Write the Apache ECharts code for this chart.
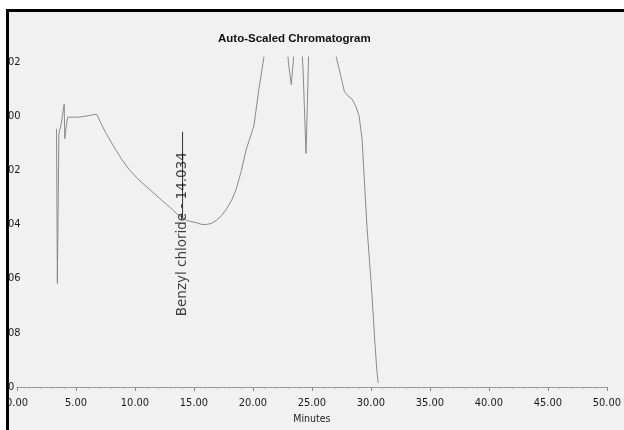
<!DOCTYPE html>
<html>
<head>
<meta charset="utf-8">
<script src="https://cdn.jsdelivr.net/npm/echarts@6/dist/echarts.min.js"></script>
<style>
  html, body { margin: 0; padding: 0; background: #ffffff; }
  #wrap { position: relative; width: 624px; height: 430px; overflow: hidden; }
  #bg { position: absolute; left: 6px; top: 9px; right: 0; bottom: 0; background: #f1f1f1; }
  #chart { position: absolute; left: 0; top: 0; width: 624px; height: 430px; }
  #maskL { position: absolute; left: 0; top: 0; width: 6px; height: 430px; background: #ffffff; }
  #frameL { position: absolute; left: 6px; top: 9px; width: 3px; height: 421px; background: #000; }
  #frameT { position: absolute; left: 6px; top: 9px; right: 0; height: 3px; background: #000; }
</style>
</head>
<body>
<div id="wrap">
  <div id="bg"></div>
  <div id="chart"></div>
  <div id="maskL"></div>
  <div id="frameL"></div>
  <div id="frameT"></div>
</div>
<script>
// ---- data ----
const chartTitle = "Auto-Scaled Chromatogram";
const xAxisName = "Minutes";
// retention time (minutes)
const timeMin = [3.35, 3.42, 3.55, 3.75, 4.0, 4.05, 4.2, 4.3, 5.3, 6.75, 7.1, 7.5, 8.17, 8.83, 9.5, 10.25, 11.0, 11.67, 12.3, 13.0, 13.58, 14.42, 15.25, 15.67, 16.08, 16.5, 16.92, 17.35, 17.75, 18.2, 18.58, 19.0, 19.42, 20.08, 20.5, 20.92, 21.1, 22.9, 23.0, 23.25, 23.42, 23.5, 24.08, 24.25, 24.5, 24.67, 24.75, 27.0, 27.08, 27.42, 27.75, 28.08, 28.42, 28.75, 29.0, 29.25, 29.42, 29.67, 29.92, 30.08, 30.33, 30.5, 30.62];
// detector signal (AU); values above the axis max are clipped by the auto-scaling
const signalAU = [-0.0047, -0.0618, -0.0066, -0.0029, 0.0044, -0.0084, -0.0029, -0.0004, -0.0004, 0.0007, -0.0025, -0.0060, -0.0110, -0.0157, -0.0197, -0.0232, -0.0262, -0.0287, -0.0312, -0.0338, -0.0362, -0.0386, -0.0394, -0.0400, -0.0400, -0.0396, -0.0384, -0.0367, -0.0344, -0.0310, -0.0270, -0.0205, -0.0125, -0.0036, 0.0098, 0.0215, 0.03, 0.03, 0.0200, 0.0116, 0.0200, 0.03, 0.03, 0.0171, -0.0138, 0.0135, 0.03, 0.03, 0.0215, 0.0153, 0.0091, 0.0073, 0.0062, 0.0033, 0.0000, -0.0084, -0.0218, -0.0411, -0.0556, -0.0655, -0.0829, -0.0938, -0.0985];
// peak annotation
const peakName = "Benzyl chloride - 14.034";
const peakTime = [14.034];
const peakMarkerTop = [-0.0058];
const peakMarkerBottom = [-0.0378];
const peakLabelCenter = [-0.0436];
// y tick values and the (cropped) tick labels visible in the scan
const yTickValues = [-0.10, -0.08, -0.06, -0.04, -0.02, 0.00, 0.02];
const yTickLabels = ["0", "08", "06", "04", "02", "00", "02"];

const narrow = "'Liberation Sans Narrow', 'Arial Narrow', 'DejaVu Sans Condensed', 'Liberation Sans', sans-serif";

const chart = echarts.init(document.getElementById('chart'), null, { renderer: 'canvas' });
const signalData = timeMin.map((t, i) => [t, signalAU[i]]);

chart.setOption({
  backgroundColor: 'transparent',
  animation: false,
  title: {
    text: chartTitle,
    left: 213, top: 28,
    textStyle: { fontFamily: "'Liberation Sans', Arial, sans-serif", fontSize: 11.5, fontWeight: 'bold', color: '#111' }
  },
  grid: { left: 17, right: 7, top: 57, bottom: 38 },
  xAxis: {
    type: 'value', min: 0, max: 50, interval: 5,
    name: xAxisName, nameLocation: 'middle', nameGap: 27,
    nameTextStyle: { fontFamily: narrow, fontSize: 10.5, color: '#222' },
    axisLine: { show: true, onZero: false, lineStyle: { color: '#9a9a9a', width: 1 } },
    axisTick: { show: true, length: 4, lineStyle: { color: '#888' } },
    minorTick: { show: true, splitNumber: 5, length: 2, lineStyle: { color: '#aaa' } },
    splitLine: { show: false },
    axisLabel: {
      margin: 11, fontFamily: narrow, fontSize: 11, color: '#1a1a1a',
      formatter: v => v.toFixed(2)
    }
  },
  yAxis: {
    type: 'value', min: -0.10, max: 0.0218, interval: 0.02,
    axisLine: { show: false }, axisTick: { show: false }, splitLine: { show: false },
    axisLabel: {
      margin: 9, align: 'left', fontFamily: narrow, fontSize: 11, color: '#1a1a1a',
      formatter: v => {
        const idx = yTickValues.findIndex(tv => Math.abs(tv - v) < 1e-6);
        return idx >= 0 ? yTickLabels[idx] : '';
      }
    }
  },
  series: [
    {
      type: 'line', data: signalData, symbol: 'none', clip: true,
      lineStyle: { color: '#8a8a8a', width: 1 }, z: 3
    },
    {
      type: 'line', symbol: 'none', clip: true,
      data: [[peakTime[0], peakMarkerTop[0]], [peakTime[0], peakMarkerBottom[0]]],
      lineStyle: { color: '#333', width: 1 }, z: 4
    },
    {
      type: 'scatter', symbolSize: 1, itemStyle: { color: 'rgba(0,0,0,0)' },
      data: [[peakTime[0], peakLabelCenter[0]]],
      label: {
        show: true, position: 'inside', rotate: 90,
        align: 'center', verticalAlign: 'middle',
        formatter: peakName,
        fontFamily: "'DejaVu Sans', sans-serif", fontSize: 13.5, color: '#111'
      }, z: 5
    }
  ]
});
</script>
</body>
</html>
